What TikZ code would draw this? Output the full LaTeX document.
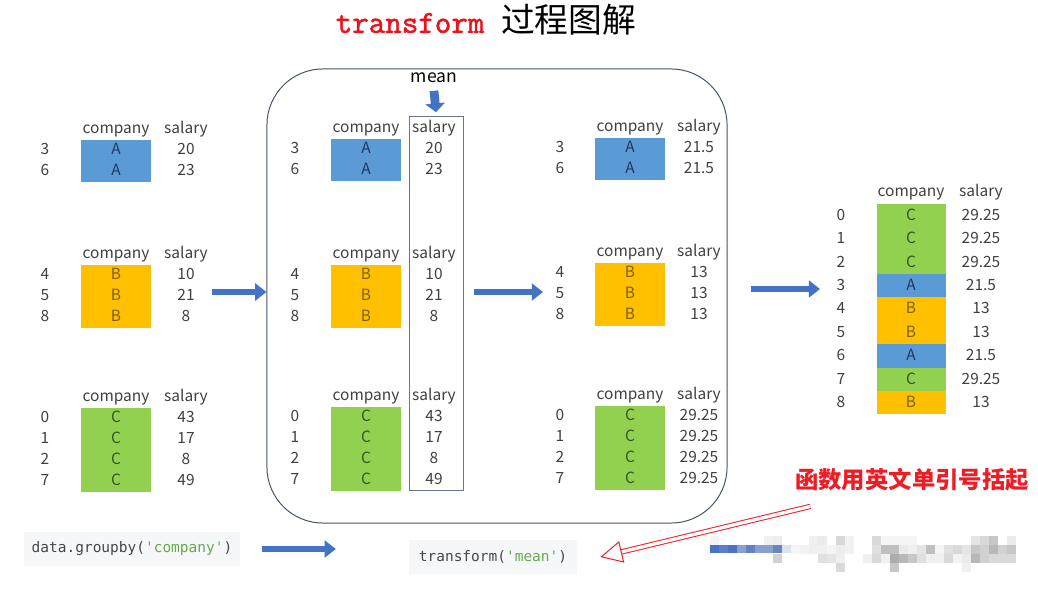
\documentclass[tikz,border=0pt]{standalone}
\usepackage{fontspec}
\setmainfont{Noto Sans CJK SC}
\newfontfamily\codefont[Ligatures=TeXOff]{DejaVu Sans Mono}
\newfontfamily\titlemono[FakeBold=1.6]{Latin Modern Mono}
\usetikzlibrary{arrows.meta,positioning,fit}
\definecolor{grpA}{HTML}{5B9BD5}
\definecolor{grpB}{HTML}{FFC000}
\definecolor{grpC}{HTML}{92D050}
\definecolor{txtA}{HTML}{1F3864}
\definecolor{txtB}{HTML}{7F6000}
\definecolor{txtC}{HTML}{375623}
\definecolor{arrblue}{HTML}{4472C4}
\definecolor{framecol}{HTML}{44546A}
\definecolor{numgray}{HTML}{404040}
\definecolor{codebg}{HTML}{F6F7F8}
\definecolor{codegreen}{HTML}{6AA84F}
\definecolor{notered}{HTML}{EE1C25}
\definecolor{titlered}{HTML}{E8141B}

\begin{document}
\begin{tikzpicture}[x=0.025cm,y=-0.025cm,
  font=\fontsize{11}{13}\selectfont,
  txt/.style={text=numgray,inner sep=0pt,text height=1.6ex,text depth=.3ex},
  cell/.style={minimum width=1.725cm,inner sep=0pt,text height=1.6ex,text depth=.3ex},
  cellA/.style={cell,fill=grpA,text=txtA},
  cellB/.style={cell,fill=grpB,text=txtB},
  cellC/.style={cell,fill=grpC,text=txtC},
  flow/.style={arrblue,line width=0.15cm,-{Triangle[length=0.28cm,width=0.42cm]}},
  code/.style={fill=codebg,text=black!72,inner sep=0pt,minimum height=0.85cm,
    font=\codefont\fontsize{10.3}{12}\selectfont},
]
\useasboundingbox[fill=white] (0,0) rectangle (1038,592);

% one group: name, x of index / company / salary, y of header, row step, rows
\newcommand{\grp}[7]{%
  \node[txt] (#1h) at (#3,#5) {company};
  \node[txt] (#1hs) at (#4,#5) {salary};
  \foreach \i/\g/\s [count=\k] in {#7}{
    \node[txt] (#1i\k) at (#2,#5+\k*#6) {\i};
    \node[cell\g,minimum height=#6*0.025cm] (#1c\k) at (#3,#5+\k*#6) {\g};
    \node[txt] (#1s\k) at (#4,#5+\k*#6) {\s};
  }}

% ---------- title ----------
\node (title) at (486,20) {{\color{titlered}\titlemono\fontsize{22.8}{26}\selectfont transform}\hspace{12pt}{\fontsize{24}{28}\selectfont 过程图解}};

% ---------- left: the split groups ----------
\grp{lA}{45}{116}{186}{129}{21}{3/A/20,6/A/23}
\grp{lB}{45}{116}{186}{254}{21}{4/B/10,5/B/21,8/B/8}
\grp{lC}{45}{116}{186}{397}{21}{0/C/43,1/C/17,2/C/8,7/C/49}

% ---------- middle: the rounded frame ----------
\node[draw=framecol,line width=0.7pt,rounded corners=1.4cm,
      minimum width=11.5cm,minimum height=11.35cm] (grpbox) at (497,296) {};
\grp{mA}{295}{366}{434}{128}{21}{3/A/20,6/A/23}
\grp{mB}{295}{366}{434}{254}{21}{4/B/10,5/B/21,8/B/8}
\grp{mC}{295}{366}{434}{396}{21}{0/C/43,1/C/17,2/C/8,7/C/49}
\node[draw=framecol!80,line width=0.6pt,minimum width=1.35cm,minimum height=9.33cm]
      (meancol) at (436,303.5) {};
\node[font=\fontsize{12.5}{14}\selectfont] (meanlbl) at (434,78) {mean};
\draw[flow,line width=0.22cm,-{Triangle[length=0.22cm,width=0.48cm]}]
      ([yshift=-2pt]meanlbl.south) -- ([yshift=3pt]meancol.north);

\grp{rA}{560}{630}{699}{127}{21}{3/A/21.5,6/A/21.5}
\grp{rB}{560}{630}{699}{252}{21}{4/B/13,5/B/13,8/B/13}
\grp{rC}{560}{630}{699}{395}{21}{0/C/29.25,1/C/29.25,2/C/29.25,7/C/29.25}

% ---------- right: the combined result ----------
\grp{out}{841}{911}{981}{192}{23.4}{0/C/29.25,1/C/29.25,2/C/29.25,3/A/21.5,4/B/13,5/B/13,6/A/21.5,7/C/29.25,8/B/13}

% ---------- flow arrows ----------
\coordinate (f1s) at (212,292);
\coordinate (f2s) at (474,292);
\coordinate (f2e) at (543,292);
\coordinate (f3s) at (751,289);
\coordinate (f3e) at (820,289);
\draw[flow] (f1s) -- (grpbox.west |- f1s);
\draw[flow] (f2s) -- (f2e);
\draw[flow] (f3s) -- (f3e);

% ---------- bottom: the code ----------
\node[code,minimum width=5.375cm] (code1) at (132,549)
      {data.groupby(\textcolor{codegreen}{'company'})};
\node[code,minimum width=4.2cm] (code2) at (493,557)
      {transform(\textcolor{codegreen}{'mean'})};
\draw[flow] ([xshift=0.55cm]code1.east) -- ([xshift=2.4cm]code1.east);

% blurred snippet (9px blocks: column / row / grey)
\foreach \k/\c in {0/4472C4,1/5B7FC9,2/4A72C0,3/87A0CF,4/6181C6,5/87A0CF,6/87A0CF,7/6C84BE,8/DAE3EC}{
  \definecolor{pix}{HTML}{\c}
  \fill[pix] (710+\k*9,545) rectangle +(9,8);
}
\foreach \k/\r/\bs in {0/0/4,6/0/6,7/0/7,11/0/6,12/0/8,14/0/15,15/0/5,18/0/15,19/0/4,20/0/4,21/0/4,
  22/0/4,29/0/10,30/0/15,31/0/22,33/0/8,
  9/1/4,10/1/5,11/1/6,12/1/6,13/1/4,14/1/7,15/1/5,18/1/12,19/1/25,20/1/25,21/1/8,22/1/6,23/1/10,
  24/1/25,25/1/4,26/1/12,27/1/15,28/1/10,29/1/22,30/1/18,31/1/28,32/1/18,33/1/22,
  7/2/18,12/2/12,13/2/10,14/2/6,17/2/6,18/2/15,19/2/6,20/2/32,21/2/28,22/2/22,23/2/12,24/2/6,
  25/2/6,26/2/15,27/2/5,28/2/8,29/2/28,30/2/18,31/2/15,32/2/15,33/2/15,
  14/3/15,20/3/22,28/3/6}{
  \fill[black!\bs] (710+\k*9,536+\r*9) rectangle +(9,9);
}

% ---------- note ----------
\node[text=notered,font=\bfseries\fontsize{16.6}{18}\selectfont] (note) at (912,480)
      {函数用英文单引号括起};
\draw[notered,line width=0.7pt,double=white,double distance=2.4pt,
      -{Triangle[open,length=0.55cm,width=0.55cm]}]
      ([shift={(20,10)}]note.south west) -- ([xshift=0.575cm]code2.east);

\end{tikzpicture}
\end{document}
